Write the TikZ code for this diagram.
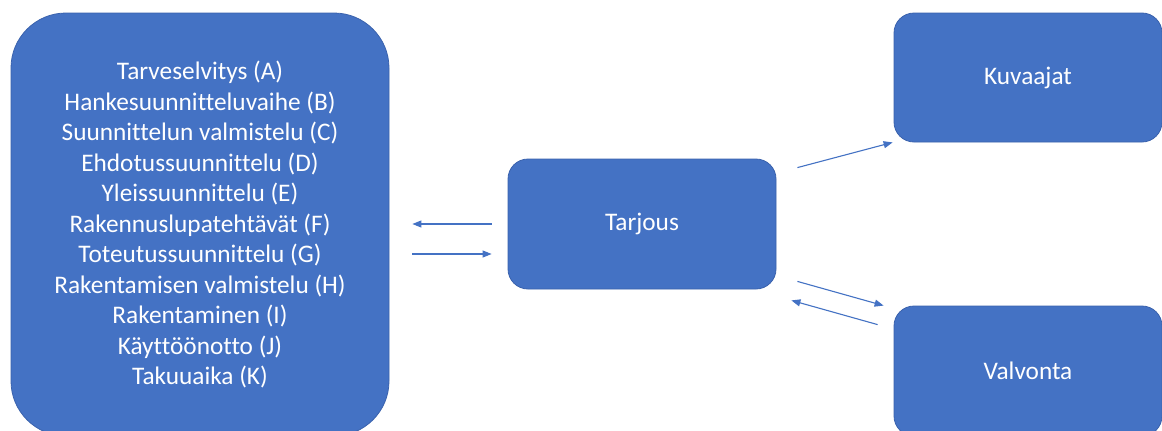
\documentclass[tikz,border=0pt]{standalone}
\usepackage{fontspec}
\setmainfont[Ligatures=NoCommon]{Carlito}
\usetikzlibrary{arrows.meta}
\definecolor{boxblue}{HTML}{4472C4}
\definecolor{edgeblue}{HTML}{3A62AD}
\begin{document}
\begin{tikzpicture}[x=1pt,y=-1pt,
  box/.style={draw=edgeblue,line width=0.8pt,fill=boxblue,text=white,rounded corners=20pt,
    inner sep=0pt,font=\fontsize{25.3pt}{30.5pt}\selectfont,align=center},
  arr/.style={draw=boxblue,line width=1.1pt,-{Triangle[length=9pt,width=7pt]}}]
\useasboundingbox[fill=white] (0,0) rectangle (1162,431);
\node[box,rounded corners=55pt,minimum width=378pt,minimum height=423pt] (phases) at (200,224.5)
  {Tarveselvitys (A)\\Hankesuunnitteluvaihe (B)\\Suunnittelun valmistelu (C)\\Ehdotussuunnittelu (D)\\Yleissuunnittelu (E)\\Rakennuslupatehtävät (F)\\Toteutussuunnittelu (G)\\Rakentamisen valmistelu (H)\\Rakentaminen (I)\\Käyttöönotto (J)\\Takuuaika (K)};
\node[box,minimum width=268pt,minimum height=130pt] (tarjous) at (642,224) {Tarjous};
\node[box,minimum width=268pt,minimum height=129pt] (kuvaajat) at (1028,77.5) {Kuvaajat};
\node[box,minimum width=268pt,minimum height=130pt] (valvonta) at (1028,371) {Valvonta};
% left arrows
\draw[arr,shorten <=16pt,shorten >=23pt] (tarjous.west) -- (phases.east |- tarjous.west);
\draw[arr,shorten <=23pt,shorten >=16pt] ([yshift=-30pt]phases.east |- tarjous.west) -- ([yshift=-30pt]tarjous.west);
% to Kuvaajat
\draw[arr] ([xshift=21pt,yshift=-9pt]tarjous.north east) -- ([xshift=-1pt]kuvaajat.south west);
% to/from Valvonta
\draw[arr] ([xshift=21pt,yshift=8pt]tarjous.south east) -- ([xshift=-10pt]valvonta.north west);
\draw[arr] ([xshift=-16pt,yshift=-19pt]valvonta.north west) -- ([xshift=15pt,yshift=-11pt]tarjous.south east);
\end{tikzpicture}
\end{document}
